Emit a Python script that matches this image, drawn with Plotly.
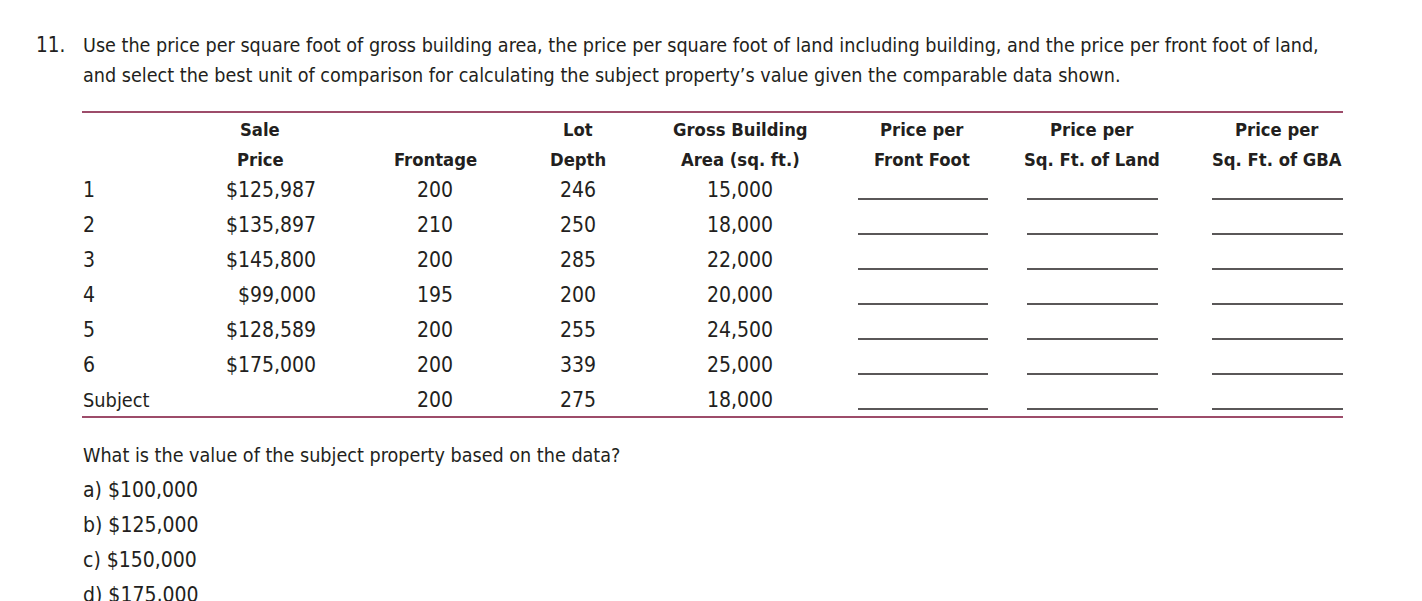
import plotly.graph_objects as go

# Table data
row_labels = ['1', '2', '3', '4', '5', '6', 'Subject']
sale_price = [125987, 135897, 145800, 99000, 128589, 175000, None]
frontage = [200, 210, 200, 195, 200, 200, 200]
lot_depth = [246, 250, 285, 200, 255, 339, 275]
gba = [15000, 18000, 22000, 20000, 24500, 25000, 18000]

header_top = ['Sale', '', 'Lot', 'Gross Building', 'Price per', 'Price per', 'Price per']
header_bottom = ['Price', 'Frontage', 'Depth', 'Area (sq. ft.)', 'Front Foot', 'Sq. Ft. of Land', 'Sq. Ft. of GBA']

question_lines = [
    'Use the price per square foot of gross building area, the price per square foot of land including building, and the price per front foot of land,',
    'and select the best unit of comparison for calculating the subject property\u2019s value given the comparable data shown.',
]
prompt = 'What is the value of the subject property based on the data?'
choices = ['a) $100,000', 'b) $125,000', 'c) $150,000', 'd) $175,000']

# layout helpers (pixel-like axis units; the page puts the plot 8px in from the corner)
W, H = 1422, 601
OFF = 8
FONT = 'Liberation Sans Narrow, DejaVu Sans Condensed, Arial Narrow, sans-serif'
TXT = '#231f20'
RULE = '#7d1138'

left = 81
col_x = [260, 435, 578, 740, 922, 1092, 1277]   # header centres
blank_cols = [(858, 988), (1027, 1158), (1212, 1343)]
row_y0, row_step = 190, 35
head_y = [129, 159]

fig = go.Figure()
ann = []


def add_text(x, y, text, anchor='left', bold=False, size=19.7):
    ann.append(dict(x=x, y=y, xref='x', yref='y', text=f'<b>{text}</b>' if bold else text,
                    showarrow=False, xanchor=anchor, yanchor='middle',
                    font=dict(family=FONT, size=size, color=TXT)))


# question
add_text(34, 45, '11.', size=20.5)
for i, line in enumerate(question_lines):
    add_text(left, 45 + 30 * i, line, size=19.6)

# headers
for cx, t1, t2 in zip(col_x, header_top, header_bottom):
    if t1:
        add_text(cx, head_y[0], t1, 'center', True, 18.3)
    add_text(cx, head_y[1], t2, 'center', True, 18.3)

# rows
shapes = []
for i, lab in enumerate(row_labels):
    y = row_y0 + row_step * i
    add_text(left, y, lab, size=19.8 if not lab.isdigit() else 21)
    if sale_price[i] is not None:
        add_text(318, y, f'${sale_price[i]:,}', 'right', size=21)
    add_text(col_x[1], y, f'{frontage[i]}', 'center', size=21)
    add_text(col_x[2], y, f'{lot_depth[i]}', 'center', size=21)
    add_text(col_x[3], y, f'{gba[i]:,}', 'center', size=21)
    for x0, x1 in blank_cols:
        shapes.append(dict(type='line', xref='x', yref='y', x0=x0, x1=x1, y0=y + 9, y1=y + 9,
                           line=dict(color='#231f20', width=1.3)))

# rules
for ry in (112, 417):
    shapes.append(dict(type='line', xref='x', yref='y', x0=82, x1=1343, y0=ry, y1=ry,
                       line=dict(color=RULE, width=1.3)))

# question + choices
add_text(left, 455, prompt, size=19.6)
for i, c in enumerate(choices):
    add_text(left, 490 + 35 * i, c, size=21)

fig.update_layout(
    width=W, height=H,
    margin=dict(l=0, r=0, t=0, b=0),
    plot_bgcolor='white', paper_bgcolor='white',
    xaxis=dict(range=[OFF, W + OFF], visible=False, fixedrange=True),
    yaxis=dict(range=[H + OFF, OFF], visible=False, fixedrange=True),
    annotations=ann, shapes=shapes, showlegend=False,
)

fig.write_html('out.html')
